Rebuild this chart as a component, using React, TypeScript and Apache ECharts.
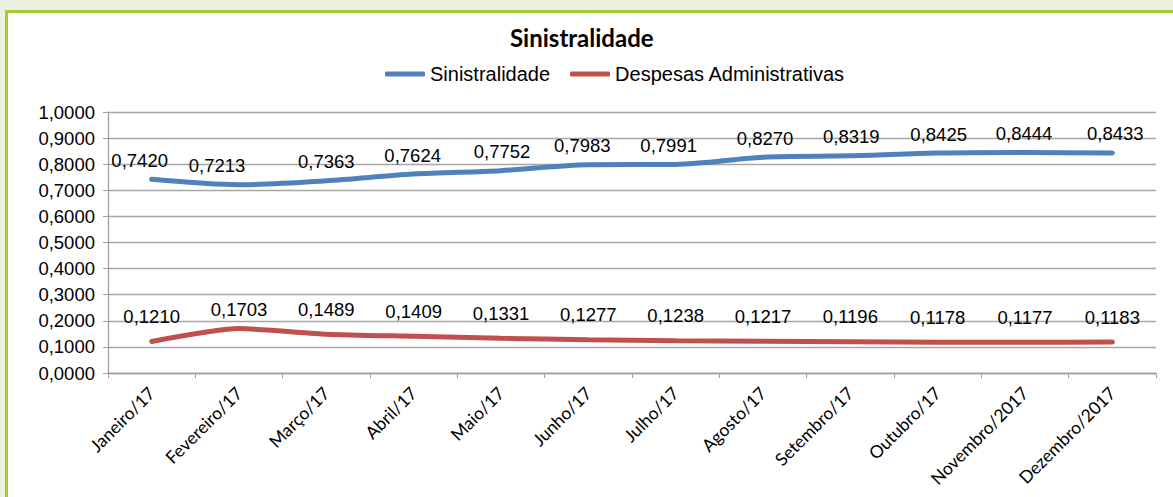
import React, { useEffect, useRef } from "react";
import * as echarts from "echarts";

const categories = [
  "Janeiro/17", "Fevereiro/17", "Março/17", "Abril/17", "Maio/17", "Junho/17",
  "Julho/17", "Agosto/17", "Setembro/17", "Outubro/17", "Novembro/2017", "Dezembro/2017",
];
const sinistralidade = [0.742, 0.7213, 0.7363, 0.7624, 0.7752, 0.7983, 0.7991, 0.827, 0.8319, 0.8425, 0.8444, 0.8433];
const despesas = [0.121, 0.1703, 0.1489, 0.1409, 0.1331, 0.1277, 0.1238, 0.1217, 0.1196, 0.1178, 0.1177, 0.1183];
const yTicks = [0, 0.1, 0.2, 0.3, 0.4, 0.5, 0.6, 0.7, 0.8, 0.9, 1.0];

// small label nudges (px) seen in the reference
const blueLabelDx = [-12, -22, 0, -1, 1, -6, -7, 2, 1, 1, -1, 3];
const redLabelDy = [0, 6, 0, 0, 0, 0, 0, 0, 0, 0, 0, 0];

const fmt = (v: number) => v.toFixed(4).replace(".", ",");

export default function App() {
  const ref = useRef<HTMLDivElement>(null);
  useEffect(() => {
    if (!ref.current) return;
    const chart = echarts.init(ref.current, undefined, { renderer: "svg" });
    const labelFont = { fontFamily: "Liberation Sans, Arial, sans-serif", fontSize: 18.5, color: "#000" };
    chart.setOption({
      animation: false,
      title: {
        text: "Sinistralidade",
        left: 505,
        top: 20,
        textStyle: { fontFamily: "Lato, sans-serif", fontWeight: "bold", fontSize: 24, color: "#000" },
      },
      legend: {
        left: 380,
        top: 59,
        itemWidth: 40,
        itemHeight: 5,
        itemGap: 20,
        icon: "roundRect",
        textStyle: { ...labelFont, fontSize: 20 },
        data: ["Sinistralidade", "Despesas Administrativas"],
      },
      grid: { left: 108, right: 17, top: 112, bottom: 124 },
      xAxis: {
        type: "category",
        data: categories,
        boundaryGap: true,
        axisLine: { lineStyle: { color: "#A0A0A0", width: 1.3 } },
        axisTick: { show: true, length: 5, alignWithLabel: false, lineStyle: { color: "#A0A0A0" } },
        axisLabel: {
          rotate: 45,
          margin: 17,
          interval: 0,
          fontFamily: "Lato, sans-serif",
          fontSize: 17.5,
          color: "#000",
        },
      },
      yAxis: {
        type: "value",
        min: yTicks[0],
        max: yTicks[yTicks.length - 1],
        interval: 0.1,
        axisLine: { show: true, lineStyle: { color: "#A0A0A0", width: 1.3 } },
        axisTick: { show: true, length: 5, lineStyle: { color: "#A0A0A0" } },
        splitLine: { lineStyle: { color: "#A6A6A6", width: 1.3 } },
        axisLabel: { ...labelFont, margin: 13, formatter: (v: number) => fmt(v) },
      },
      series: [
        {
          name: "Sinistralidade",
          type: "line",
          smooth: 0.3,
          symbol: "circle",
          symbolSize: 1,
          showSymbol: true,
          color: "#4F81BD",
          lineStyle: { width: 5, color: "#4F81BD", cap: "round" },
          label: { show: true, position: "top", distance: 9, ...labelFont, formatter: (p: any) => fmt(p.value) },
          data: sinistralidade.map((v, i) => ({ value: v, label: { offset: [blueLabelDx[i], 0] } })),
        },
        {
          name: "Despesas Administrativas",
          type: "line",
          smooth: 0.2,
          symbol: "circle",
          symbolSize: 1,
          showSymbol: true,
          color: "#C0504D",
          lineStyle: { width: 5, color: "#C0504D", cap: "round" },
          label: { show: true, position: "top", distance: 15, ...labelFont, formatter: (p: any) => fmt(p.value) },
          data: despesas.map((v, i) => ({ value: v, label: { offset: [0, redLabelDy[i]] } })),
        },
      ],
    });
    return () => chart.dispose();
  }, []);

  return (
    <div style={{ position: "fixed", left: 0, top: 0, width: 1173, height: 497, background: "#EBF1DE", overflow: "hidden" }}>
      <div
        style={{
          position: "absolute",
          left: 5,
          top: 10,
          right: 0,
          bottom: 0,
          background: "#FFFFFF",
          borderTop: "3px solid #A4CC3A",
          borderLeft: "3px solid #A4CC3A",
        }}
      />
      <div ref={ref} style={{ position: "absolute", left: 0, top: 0, width: 1173, height: 497 }} />
    </div>
  );
}
